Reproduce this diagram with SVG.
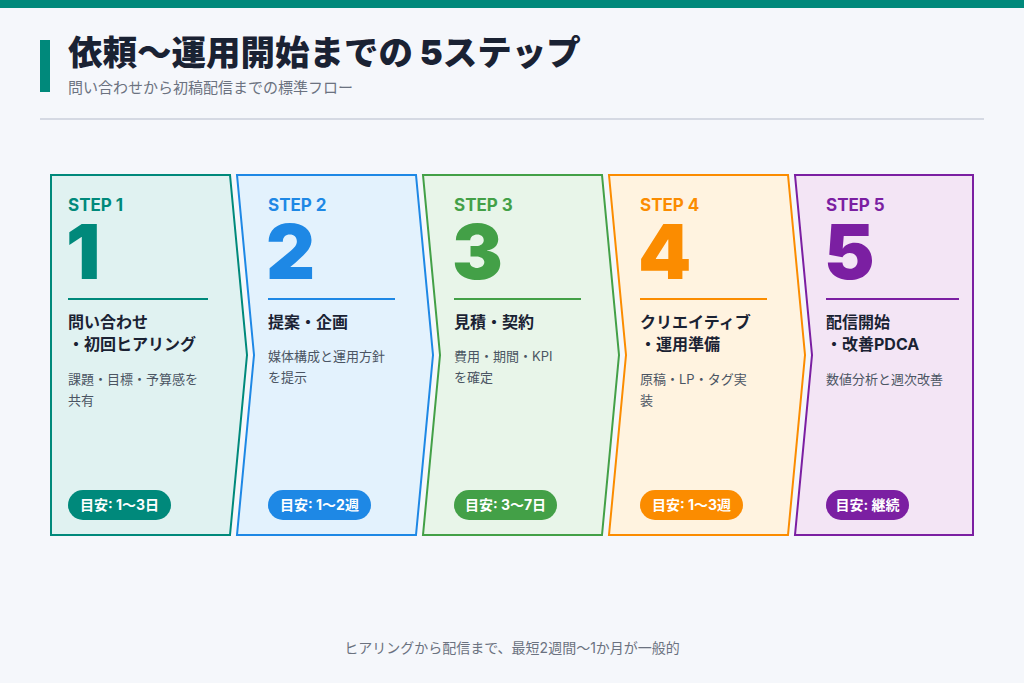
<svg xmlns="http://www.w3.org/2000/svg" width="1024" height="683" viewBox="0 0 1024 683">
<style>
text{font-family:Inter,"Noto Sans CJK JP",sans-serif}
.card{stroke-width:2;stroke-linejoin:miter}
.step{font-size:17px;font-weight:700}
.num{font-size:76px;font-weight:900}
.ttl{font-size:16px;font-weight:700;fill:#1a2233}
.desc{font-size:13px;fill:#4b5563}
.badge-t{font-size:14px;font-weight:700;fill:#ffffff;text-anchor:middle}
</style>
<rect width="1024" height="683" fill="#f5f7fb"/>
<rect width="1024" height="8" fill="#00897b"/>
<g id="header">
<rect x="40" y="40" width="10" height="52" fill="#00897b"/>
<text x="68" y="65" style="font-size:34.5px;font-weight:900;fill:#1a2233">依頼〜運用開始までの 5ステップ</text>
<text x="68" y="93" style="font-size:15px;fill:#6b7280">問い合わせから初稿配信までの標準フロー</text>
<line x1="40" y1="119" x2="984" y2="119" stroke="#d5d9e3" stroke-width="2"/>
</g>
<g id="connectors"></g>
<g id="step1">
<path class="card" d="M51,175 L230,175 L247,355 L230,535 L51,535 Z" fill="#e0f2f1" stroke="#00897b"/>
<text class="step" x="68" y="211" fill="#00897b">STEP 1</text>
<text class="num" x="66" y="279" fill="#00897b">1</text>
<line x1="68" y1="299" x2="208" y2="299" stroke="#00897b" stroke-width="2"/>
<text class="ttl" x="68" y="328">問い合わせ</text>
<text class="ttl" x="68" y="350">・初回ヒアリング</text>
<text class="desc" x="68" y="384">課題・目標・予算感を</text>
<text class="desc" x="68" y="405">共有</text>
<rect x="68" y="490" width="103" height="30" rx="15" fill="#00897b"/>
<text class="badge-t" x="119.5" y="510">目安: 1〜3日</text>
</g>
<g id="step2">
<path class="card" d="M237,175 L416,175 L433,355 L416,535 L237,535 L254,355 Z" fill="#e3f2fd" stroke="#1e88e5"/>
<text class="step" x="268" y="211" fill="#1e88e5">STEP 2</text>
<text class="num" x="266" y="279" fill="#1e88e5">2</text>
<line x1="268" y1="299" x2="395" y2="299" stroke="#1e88e5" stroke-width="2"/>
<text class="ttl" x="268" y="328">提案・企画</text>
<text class="desc" x="268" y="361">媒体構成と運用方針</text>
<text class="desc" x="268" y="382">を提示</text>
<rect x="268" y="490" width="103" height="30" rx="15" fill="#1e88e5"/>
<text class="badge-t" x="319.5" y="510">目安: 1〜2週</text>
</g>
<g id="step3">
<path class="card" d="M423,175 L602,175 L619,355 L602,535 L423,535 L440,355 Z" fill="#e8f5e9" stroke="#43a047"/>
<text class="step" x="454" y="211" fill="#43a047">STEP 3</text>
<text class="num" x="452" y="279" fill="#43a047">3</text>
<line x1="454" y1="299" x2="581" y2="299" stroke="#43a047" stroke-width="2"/>
<text class="ttl" x="454" y="328">見積・契約</text>
<text class="desc" x="454" y="361">費用・期間・KPI</text>
<text class="desc" x="454" y="382">を確定</text>
<rect x="454" y="490" width="103" height="30" rx="15" fill="#43a047"/>
<text class="badge-t" x="505.5" y="510">目安: 3〜7日</text>
</g>
<g id="step4">
<path class="card" d="M609,175 L788,175 L805,355 L788,535 L609,535 L626,355 Z" fill="#fff3e0" stroke="#fb8c00"/>
<text class="step" x="640" y="211" fill="#fb8c00">STEP 4</text>
<text class="num" x="638" y="279" fill="#fb8c00">4</text>
<line x1="640" y1="299" x2="767" y2="299" stroke="#fb8c00" stroke-width="2"/>
<text class="ttl" x="640" y="328">クリエイティブ</text>
<text class="ttl" x="640" y="350">・運用準備</text>
<text class="desc" x="640" y="384">原稿・LP・タグ実</text>
<text class="desc" x="640" y="405">装</text>
<rect x="640" y="490" width="103" height="30" rx="15" fill="#fb8c00"/>
<text class="badge-t" x="691.5" y="510">目安: 1〜3週</text>
</g>
<g id="step5">
<path class="card" d="M795,175 L973,175 L973,535 L795,535 L812,355 Z" fill="#f3e5f5" stroke="#7b1fa2"/>
<text class="step" x="826" y="211" fill="#7b1fa2">STEP 5</text>
<text class="num" x="824" y="279" fill="#7b1fa2">5</text>
<line x1="826" y1="299" x2="959" y2="299" stroke="#7b1fa2" stroke-width="2"/>
<text class="ttl" x="826" y="328">配信開始</text>
<text class="ttl" x="826" y="350">・改善PDCA</text>
<text class="desc" x="826" y="384">数値分析と週次改善</text>
<rect x="826" y="490" width="83" height="30" rx="15" fill="#7b1fa2"/>
<text class="badge-t" x="867.5" y="510">目安: 継続</text>
</g>
<text x="512" y="653" text-anchor="middle" style="font-size:14px;fill:#6b7280">ヒアリングから配信まで、最短2週間〜1か月が一般的</text>
</svg>
